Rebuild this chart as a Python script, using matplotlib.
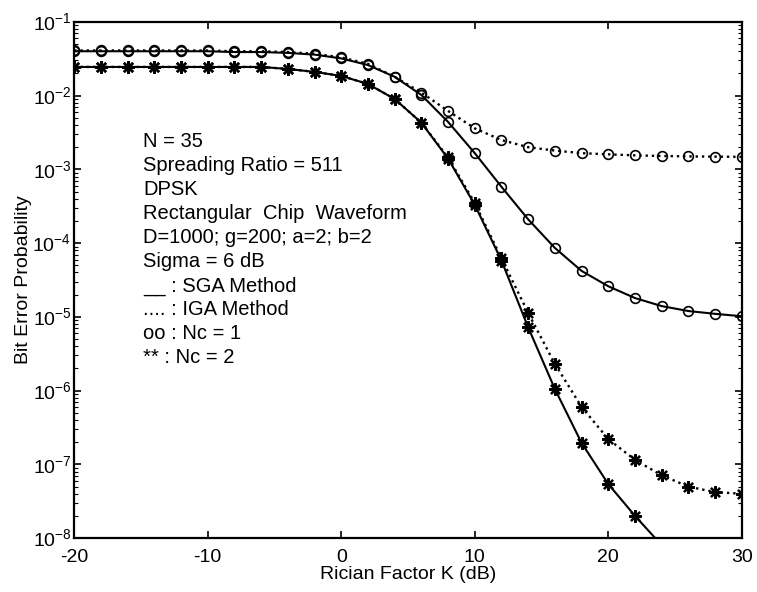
import numpy as np
import matplotlib
matplotlib.use('Agg')
from matplotlib import pyplot as plt

plt.rcParams['font.family'] = ['Liberation Sans', 'DejaVu Sans']
plt.rcParams['mathtext.fontset'] = 'custom'
plt.rcParams['mathtext.rm'] = 'Liberation Sans'
plt.rcParams['axes.unicode_minus'] = False

K = [-20, -18, -16, -14, -12, -10, -8, -6, -4, -2, 0, 2, 4, 6, 8, 10, 12, 14,
     16, 18, 20, 22, 24, 26, 28, 30]

# Nc = 1 (circles)
sga_nc1 = [0.040, 0.040, 0.040, 0.040, 0.040, 0.040, 0.039, 0.039, 0.038, 0.036,
           0.032, 0.026, 0.018, 0.0102, 0.0044, 0.00166, 5.8e-4, 2.1e-4,
           8.6e-5, 4.2e-5, 2.6e-5, 1.8e-5, 1.4e-5, 1.2e-5, 1.1e-5, 1.02e-5]
iga_nc1 = [0.041, 0.041, 0.041, 0.041, 0.041, 0.041, 0.040, 0.040, 0.039, 0.037,
           0.033, 0.027, 0.018, 0.011, 0.0062, 0.0036, 2.5e-3, 2.0e-3,
           1.8e-3, 1.66e-3, 1.6e-3, 1.55e-3, 1.52e-3, 1.5e-3, 1.49e-3, 1.48e-3]

# Nc = 2 (asterisks)
sga_nc2 = [0.0245, 0.0245, 0.0245, 0.0245, 0.0245, 0.0245, 0.0245, 0.0245, 0.023,
           0.021, 0.0185, 0.0144, 0.009, 0.0043, 1.4e-3, 3.3e-4, 5.8e-5, 7.2e-6,
           1.05e-6, 1.95e-7, 5.4e-8, 2.0e-8, 8.0e-9]
iga_nc2 = [0.0245, 0.0245, 0.0245, 0.0245, 0.0245, 0.0245, 0.0245, 0.0245, 0.023,
           0.021, 0.0185, 0.0144, 0.009, 0.0043, 1.45e-3, 3.5e-4, 6.2e-5, 1.13e-5,
           2.3e-6, 6.0e-7, 2.2e-7, 1.15e-7, 7.1e-8, 5.0e-8, 4.2e-8, 4.0e-8]

notes = ['N = 35', 'Spreading Ratio = 511', 'DPSK', 'Rectangular  Chip  Waveform',
         'D=1000; g=200; a=2; b=2', 'Sigma = 6 dB', '__ : SGA Method',
         '.... : IGA Method', 'oo : Nc = 1', '** : Nc = 2']

fig = plt.figure(figsize=(7.57, 5.92), dpi=100)
ax = fig.add_axes([0.098, 0.091, 0.882, 0.872])

ast = (8, 2, 0)
ax.plot(K, sga_nc1, 'k-', lw=1.5, marker='o', ms=7, mfc='none', mew=1.2)
ax.plot(K, iga_nc1, 'k:', lw=1.7, marker='o', ms=7, mfc='none', mew=1.2)
ax.plot(K[:len(sga_nc2)], sga_nc2, 'k-', lw=1.5, marker=ast, ms=9, mew=1.6)
ax.plot(K, iga_nc2, 'k:', lw=1.7, marker=ast, ms=9, mew=1.6)

ax.set_yscale('log')
ax.set_xlim(-20, 30)
ax.set_ylim(1e-8, 1e-1)
ax.set_xticks([-20, -10, 0, 10, 20, 30])
ax.set_yticks([10.0**e for e in range(-8, 0)])
ax.set_yticklabels([r'$10^{%d}$' % e for e in range(-8, 0)])
ax.tick_params(which='both', direction='in', top=True, right=True, labelsize=14)
ax.tick_params(which='major', length=5, width=1.2)
ax.tick_params(which='minor', length=3, width=0.8)
ax.tick_params(axis='x', which='minor', bottom=False, top=False)
ax.tick_params(axis='x', pad=8)
ax.tick_params(axis='y', pad=2)
for s in ax.spines.values():
    s.set_linewidth(1.6)

ax.set_xlabel('Rician Factor K (dB)', fontsize=14, labelpad=0)
ax.set_ylabel('Bit Error Probability', fontsize=14, labelpad=0)

for i, t in enumerate(notes):
    ax.text(0.103, 0.757 - i * 0.0465, t, transform=ax.transAxes, fontsize=14.5,
            va='baseline')

fig.savefig('out.png', dpi=100)
